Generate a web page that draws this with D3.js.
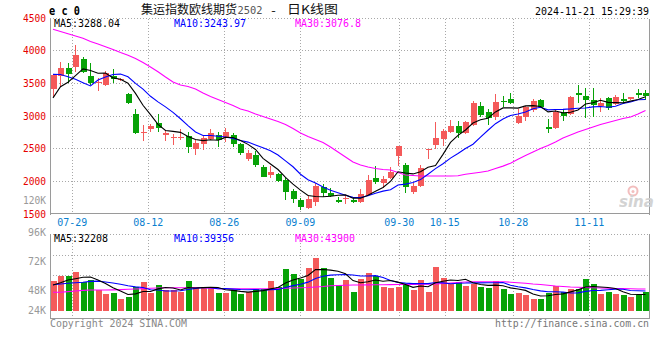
<!DOCTYPE html>
<html><head><meta charset="utf-8">
<script src="https://cdn.jsdelivr.net/npm/d3@7"></script>
<style>html,body{margin:0;padding:0;background:#fff;}svg{display:block;}</style>
</head><body>
<svg id="c" width="660" height="360"></svg>
<script>
const dates = ["07-24","07-25","07-26","07-29","07-30","07-31","08-01","08-02","08-05","08-06","08-07","08-08","08-09","08-12","08-13","08-14","08-15","08-16","08-19","08-20","08-21","08-22","08-23","08-26","08-27","08-28","08-29","08-30","09-02","09-03","09-04","09-05","09-06","09-09","09-10","09-11","09-12","09-13","09-18","09-19","09-20","09-23","09-24","09-25","09-26","09-27","09-30","10-08","10-09","10-10","10-11","10-14","10-15","10-16","10-17","10-18","10-21","10-22","10-23","10-24","10-25","10-28","10-29","10-30","10-31","11-01","11-04","11-05","11-06","11-07","11-08","11-11","11-12","11-13","11-14","11-15","11-18","11-19","11-20","11-21"];
const open = [3401,3605,3732,3747,3865,3604,3500,3467,3609,3545,3329,3023,2730,2789,2890,2697,2660,2660,2686,2492,2568,2645,2697,2651,2697,2564,2339,2391,2212,2089,2105,2013,1844,1702,1584,1681,1910,1818,1707,1735,1707,1681,1783,2043,1962,2039,2380,2242,1834,1926,2480,2548,2640,2752,2839,2737,2855,3145,3054,2972,3218,3252,2890,2972,3084,3237,2829,2804,3034,3023,3340,3303,3237,3145,3263,3176,3248,3248,3340,3340];
const high = [3625,3824,3808,4079,3900,3799,3569,3686,3707,3580,3340,3100,2855,2870,3018,2778,2717,2793,2747,2625,2686,2793,2742,2804,2727,2575,2472,2461,2242,2227,2125,2063,1870,1733,1783,1962,1951,1886,1757,1783,1742,1870,2089,2227,2079,2216,2533,2278,1972,2247,2492,2896,2793,2931,2920,2915,3226,3206,3104,3329,3298,3339,3094,3145,3248,3252,2941,3084,3094,3298,3467,3416,3416,3263,3288,3314,3340,3288,3401,3390];
const low = [3288,3430,3493,3670,3646,3467,3380,3456,3502,3525,3180,2717,2614,2752,2752,2614,2548,2625,2430,2395,2472,2625,2513,2600,2523,2400,2308,2216,2054,2039,1987,1707,1665,1554,1569,1615,1747,1757,1655,1640,1656,1661,1773,1951,1895,2023,2227,1818,1794,1910,2334,2487,2538,2727,2651,2722,2839,2982,2850,2931,3125,3176,2870,2920,3058,3110,2737,2793,2920,3008,3187,2957,2982,3058,3084,3160,3187,3230,3263,3237];
const close = [3620,3732,3630,3926,3661,3502,3510,3646,3559,3553,3196,2737,2740,2839,2804,2737,2666,2666,2522,2574,2651,2727,2630,2743,2568,2421,2426,2242,2063,2135,1997,1829,1727,1604,1717,1921,1809,1772,1681,1742,1671,1798,2013,1982,2028,2140,2533,1910,1921,2196,2487,2660,2763,2839,2727,2900,3196,3008,2966,3206,3206,3196,2992,3135,3226,3135,2789,3058,2992,3278,3309,3237,3161,3187,3110,3288,3226,3288,3314,3298];
const ma5 = [3270,3440,3510,3610,3714,3690,3646,3649,3576,3554,3493,3338,3157,3013,2863,2771,2757,2742,2679,2633,2616,2628,2621,2665,2664,2618,2558,2480,2344,2257,2173,2053,1950,1858,1775,1760,1756,1765,1780,1785,1735,1733,1781,1841,1898,1992,2139,2119,2106,2140,2209,2235,2405,2589,2695,2778,2885,2934,2959,3055,3116,3116,3113,3147,3151,3137,3055,3069,3040,3050,3085,3175,3195,3234,3201,3197,3194,3220,3245,3288];
const ma10 = [3630,3627,3594,3554,3502,3452,3543,3589,3627,3634,3592,3492,3403,3294,3209,3132,3048,2950,2846,2748,2694,2693,2682,2672,2648,2617,2593,2550,2505,2461,2395,2305,2215,2101,2016,1966,1904,1857,1819,1780,1747,1744,1773,1811,1842,1864,1936,1950,1974,2019,2101,2187,2262,2348,2418,2494,2560,2670,2774,2875,2947,3001,3024,3053,3103,3127,3086,3091,3094,3101,3111,3115,3132,3137,3126,3141,3185,3208,3240,3244];
const ma30 = [4321,4287,4252,4218,4182,4134,4094,4051,4010,3964,3923,3872,3811,3742,3669,3589,3513,3467,3444,3406,3344,3291,3245,3199,3153,3099,3069,3023,2985,2946,2908,2862,2801,2732,2679,2633,2587,2518,2441,2365,2288,2242,2212,2189,2174,2166,2128,2089,2082,2074,2074,2074,2074,2074,2078,2100,2115,2132,2150,2190,2225,2270,2330,2388,2441,2495,2541,2594,2656,2702,2747,2786,2824,2862,2893,2923,2954,2977,3023,3077];
const volume = [58800,69200,69200,76500,56900,61400,40600,33900,35300,24100,27500,47100,56900,34700,51000,41200,41200,37800,58800,47100,44500,44500,35900,35900,41800,33900,37300,43700,43100,58800,47100,82400,72500,62700,84300,103900,84300,65300,51000,60800,37300,62700,74500,69200,47100,45100,47100,51000,41200,60800,37300,86900,65300,53500,56300,49000,53500,47100,45100,58800,42500,33300,35900,31400,23500,23500,34700,49000,37300,43100,43100,62700,53500,33300,37800,33300,31400,27500,31400,37800];
const volMa5 = [51000,55500,60800,63300,66100,66600,60900,53900,45600,39100,32300,33600,38200,38100,43400,46200,45000,41200,46000,45200,45900,46500,46200,41600,40500,38400,37000,38500,40000,43400,46000,55000,60800,64700,69800,81200,81500,80100,77800,73100,59700,55400,57300,60900,58200,59700,56600,51900,46300,49000,47500,55400,58300,60800,59900,62200,55500,51900,50200,50700,49400,45400,43100,40400,33300,29500,29800,32400,33600,37500,41400,47000,47900,47100,46100,44100,37900,32700,32300,32208];
const volMa10 = [51500,53000,54500,55500,56500,58000,58500,57000,55000,52600,49500,47300,46000,41800,41300,39200,39300,39700,42000,44300,46000,45800,43700,43800,42900,42100,41800,42300,40800,41900,42200,46000,49700,52300,56600,63600,68300,70400,71200,71400,70500,68500,68700,69300,65600,59700,56000,54600,53600,53600,53600,56000,55100,53500,54500,54800,55500,55100,55500,55300,55800,50400,47500,45300,42000,39500,37600,37800,37000,35400,35500,38400,40200,40400,41800,42800,42500,40300,39700,39356];
const volMa30 = [36700,36700,38000,39200,40500,41200,41200,41200,41500,42000,42500,43100,43800,44500,45000,45500,45700,45700,45700,45700,45700,44500,43500,43500,43500,43500,43500,43500,43500,43500,44000,44500,45000,45500,46000,47000,48000,49600,50000,50500,51000,51000,51200,51400,51600,51800,52000,52200,52300,52400,52500,53000,54000,55000,56000,57000,57500,57500,57500,57500,57300,56500,55500,54500,53000,52000,50500,49000,48000,47000,46500,46000,45500,45000,44500,44200,44000,43500,43200,43000];
const priceTicks = [4500,4000,3500,3000,2500,2000,1500];
const dateTicks = ["07-29","08-12","08-26","09-09","09-30","10-15","10-28","11-11"];
const volTickLabels = ["96K","72K","48K","24K"];
const legendMain = ["MA5:3288.04","MA10:3243.97","MA30:3076.8"];
const legendVol = ["MA5:32208","MA10:39356","MA30:43900"];

const svg = d3.select("#c");
const L = 50, R = 649, mainTop = 18.5, mainBot = 213.5, volTop = 234, volBot = 318.5, volBase = 311;
const RED = "#f45a5a", GREEN = "#07a207", GRID = "#a8a8a8", BORDER = "#9a9a9a";
const MONO = "'DejaVu Sans Mono', monospace";

const x = d3.scalePoint().domain(dates).range([53, 645.5]);
const gridX = d3.scaleLinear().domain([3, 71]).range([72.3, 589.3]);
const y = d3.scaleLinear().domain([1500, 4500]).range([213.5, 17.5]);
const vy = d3.scaleLinear().domain([0, 150980]).range([volBase, volTop]);

const g = svg.append("g");
function hline(yy, x1, x2, dotted, col) {
  g.append("line").attr("x1", x1).attr("x2", x2).attr("y1", yy).attr("y2", yy)
   .attr("stroke", col || (dotted ? GRID : BORDER)).attr("stroke-width", 1)
   .attr("stroke-dasharray", dotted ? "1,2" : null).attr("shape-rendering", "crispEdges");
}
function vline(xx, y1, y2, dotted, col) {
  g.append("line").attr("x1", xx).attr("x2", xx).attr("y1", y1).attr("y2", y2)
   .attr("stroke", col || (dotted ? GRID : BORDER)).attr("stroke-width", 1)
   .attr("stroke-dasharray", dotted ? "1,2" : null).attr("shape-rendering", "crispEdges");
}

priceTicks.filter(t => t > 1500 && t < 4500).forEach(t => hline(Math.round(y(t)) + 0.5, L, R, true));
hline(mainTop, L, R, true);
dateTicks.forEach(d => {
  const xx = Math.round(gridX(dates.indexOf(d))) + 0.5;
  vline(xx, mainTop, mainBot, true);
  vline(xx, volTop, volBot, true);
});
[255.5, 275.5].forEach(v => hline(v, L, R, true));
hline(volTop + 0.5, L, R, true);

vline(L + 0.5, mainTop, mainBot + 1);
vline(R + 0.5, mainTop, mainBot + 1);
hline(mainBot, L, R + 1);
vline(L + 0.5, volTop, volBot);
vline(R + 0.5, volTop, volBot);
hline(volBot, L, R + 1);

// watermark
const wm = svg.append("g").attr("opacity", 0.9);
wm.append("circle").attr("cx", 633).attr("cy", 191).attr("r", 4.5).attr("fill", "none").attr("stroke", "#f2b8b8").attr("stroke-width", 2);
wm.append("circle").attr("cx", 633).attr("cy", 191.5).attr("r", 1.5).attr("fill", "#f2b8b8");
wm.append("text").attr("x", 619).attr("y", 207).attr("font-family", "'DejaVu Sans', sans-serif")
  .attr("font-size", 15).attr("font-style", "italic").attr("font-weight", "bold").attr("fill", "#cfcfcf").text("sina");

// candles
const idx = d3.range(dates.length);
const cg = svg.append("g").attr("shape-rendering", "crispEdges");
idx.forEach(i => {
  const up = close[i] >= open[i];
  const col = up ? RED : GREEN;
  const cx = Math.floor(x(dates[i]));
  cg.append("line").attr("x1", cx + 0.5).attr("x2", cx + 0.5)
    .attr("y1", y(high[i])).attr("y2", y(low[i])).attr("stroke", col).attr("stroke-width", 1);
  const top = y(Math.max(open[i], close[i])), bot = y(Math.min(open[i], close[i]));
  cg.append("rect").attr("x", cx - 2).attr("width", 6).attr("y", top)
    .attr("height", Math.max(1, bot - top)).attr("fill", col);
});

const lineP = arr => d3.line().x((d, i) => x(dates[i])).y(d => y(d))(arr);
svg.append("path").attr("d", lineP(ma30)).attr("fill", "none").attr("stroke", "#ff00ff").attr("stroke-width", 1.1);
svg.append("path").attr("d", lineP(ma10)).attr("fill", "none").attr("stroke", "#0000ff").attr("stroke-width", 1.1);
svg.append("path").attr("d", lineP(ma5)).attr("fill", "none").attr("stroke", "#000").attr("stroke-width", 1.1);

// volume bars
const vg = svg.append("g").attr("shape-rendering", "crispEdges");
idx.forEach(i => {
  const up = close[i] >= open[i];
  const cx = Math.floor(x(dates[i]));
  vg.append("rect").attr("x", cx - 2).attr("width", 6).attr("y", vy(volume[i]))
    .attr("height", volBase - vy(volume[i])).attr("fill", up ? RED : GREEN);
});
const lineV = arr => d3.line().x((d, i) => x(dates[i])).y(d => vy(d))(arr);
svg.append("path").attr("d", lineV(volMa30)).attr("fill", "none").attr("stroke", "#ff00ff").attr("stroke-width", 1.1);
svg.append("path").attr("d", lineV(volMa10)).attr("fill", "none").attr("stroke", "#0000ff").attr("stroke-width", 1.1);
svg.append("path").attr("d", lineV(volMa5)).attr("fill", "none").attr("stroke", "#000").attr("stroke-width", 1.1);

function txt(s, xx, yy, opts) {
  opts = opts || {};
  const t = svg.append("text").attr("x", xx).attr("y", yy)
    .attr("font-family", opts.family || MONO).attr("font-size", opts.size || 11)
    .attr("fill", opts.fill || "#000").attr("text-anchor", opts.anchor || "start").text(s);
  if (opts.weight) t.attr("font-weight", opts.weight);
  if (opts.len) t.attr("textLength", opts.len).attr("lengthAdjust", "spacingAndGlyphs");
  return t;
}
priceTicks.forEach(t => txt(String(t), 46, y(t) + 4, {anchor: "end", fill: "#e60000", len: 23}));
txt("120K", 46, 204, {anchor: "end", fill: "#999", len: 23});
const volLabelY = [236, 264.5, 294, 314];
volTickLabels.forEach((s, i) => txt(s, 46, volLabelY[i], {anchor: "end", fill: "#999", len: s.length * 6}));
dateTicks.forEach(d => txt(d, gridX(dates.indexOf(d)), 225.5, {anchor: "middle", fill: "#0a7fd0", len: 30}));
const legCols = ["#000", "#0000ff", "#ff00ff"];
const legX = [54, 174, 295];
legendMain.forEach((s, i) => txt(s, legX[i], 27, {fill: legCols[i], len: s.length * 6}));
legendVol.forEach((s, i) => txt(s, legX[i], 242, {fill: legCols[i], len: s.length * 6}));
txt("e c 0", 49, 15, {weight: "bold", size: 12, len: 31});
const CJK = "'Noto Sans CJK SC', sans-serif";
txt("集运指数欧线期货", 141, 14, {family: CJK, size: 12, fill: "#111", len: 96});
txt("2502", 237.5, 14, {size: 11, fill: "#555", len: 25});
txt("-", 269.5, 14, {size: 11, fill: "#111", len: 8});
txt("日K线图", 287, 14, {family: CJK, size: 12, fill: "#111", len: 51});
txt("2024-11-21 15:29:39", 535, 15, {len: 114});
txt("Copyright 2024 SINA.COM", 50, 327, {fill: "#888", len: 137});
txt("http://finance.sina.com.cn", 649, 327, {fill: "#777", size: 10, anchor: "end", len: 154});
</script>
</body></html>
